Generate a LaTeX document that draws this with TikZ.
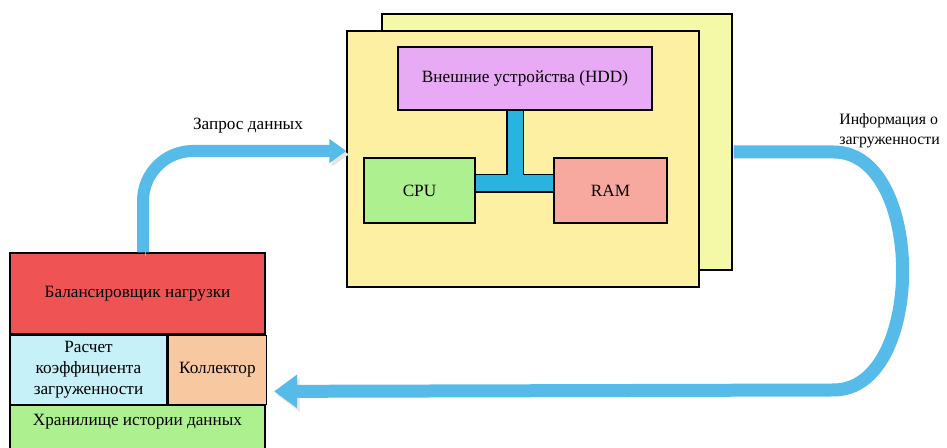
\documentclass[tikz,border=0pt]{standalone}
\usepackage{fontspec}
\setmainfont{Liberation Serif}
\newfontfamily\boxfont{Liberation Serif}
\usetikzlibrary{arrows.meta,positioning}
\definecolor{backy}{HTML}{F4F9A8}
\definecolor{fronty}{HTML}{FDF0A2}
\definecolor{hddv}{HTML}{E8AAF5}
\definecolor{cpug}{HTML}{ADF08F}
\definecolor{ramr}{HTML}{F7A99F}
\definecolor{lbred}{HTML}{F05353}
\definecolor{calcc}{HTML}{C6F1F8}
\definecolor{collp}{HTML}{F8C9A0}
\definecolor{busc}{HTML}{29B3E0}
\definecolor{flowc}{HTML}{56BBE8}

\begin{document}
\begin{tikzpicture}[x=0.02cm, y=-0.02cm, every node/.style={font=\boxfont\fontsize{9.8}{12}\selectfont,align=center,inner sep=0pt}, p/.style={draw=black,thick}, bus/.style={line width=#1}, flow/.style={draw=flowc,line width=0.24cm,preaction={draw=black!10,transform canvas={shift={(1.5pt,-2pt)}}}}]
\useasboundingbox (0,0) rectangle (947,448);
\clip (0,0) rectangle (947,448);
% node with two stacked panels
\node[p,fill=backy,minimum width=7cm,minimum height=5.12cm] (back) at (557,142) {};
\node[p,fill=fronty,minimum width=7.04cm,minimum height=5.12cm] (front) at (523,159) {};
\node[p,fill=hddv,minimum width=5.08cm,minimum height=1.26cm] (hdd) at (525,78.5) {Внешние устройства (HDD)};
\node[p,fill=cpug,minimum width=2.22cm,minimum height=1.3cm] (cpu) at (419.5,190.5) {CPU};
\node[p,fill=ramr,minimum width=2.26cm,minimum height=1.3cm] (ram) at (610.5,190.5) {RAM};
\coordinate (tee) at (515,183.5);
\draw[bus=0.38cm] (cpu.east |- tee) -- (ram.west |- tee);
\draw[bus=0.36cm] (tee) -- (tee |- hdd.south);
\draw[bus=0.32cm,busc] (cpu.east |- tee) -- (ram.west |- tee);
\draw[bus=0.3cm,busc] (tee) -- (tee |- hdd.south);
% balancer stack
\node[p,fill=lbred,minimum width=5.1cm,minimum height=1.62cm] (lb) at (137.5,293.5) {Балансировщик нагрузки};
\node[p,fill=calcc,minimum width=3.14cm,minimum height=1.38cm,below right=0pt of lb.south west] (calc) {Расчет\\коэффициента\\загруженности};
\node[p,fill=collp,minimum width=1.96cm,minimum height=1.38cm,right=0pt of calc] (coll) {Коллектор};
\node[p,fill=cpug,minimum width=5.1cm,minimum height=1cm,below right=0pt of calc.south west,text depth=0.42cm] (store) {Хранилище истории данных};
% flows
\path (lb.north) ++(5.5,0) coordinate (reqout);
\path (front.west) ++(0,-8) coordinate (reqin);
\draw[flow,rounded corners=1cm,-{Triangle[length=0.34cm,width=0.46cm]}] (reqout) |- (reqin);
\node (req) at (248,126) {Запрос данных};
\path (back.east) ++(1,10) coordinate (loopin);
\path (coll.east) ++(7,21.5) coordinate (loopout);
\draw[flow,line width=0.26cm,-{Triangle[length=0.46cm,width=0.64cm]}] (loopin) -- ++(100,0) .. controls +(92,0) and +(92,0) .. ++(0,238) -- (loopout);
\node[anchor=west,align=left,font=\boxfont\fontsize{9}{11.5}\selectfont] (info) at (839,131) {Информация о\\загруженности};
\end{tikzpicture}
\end{document}
